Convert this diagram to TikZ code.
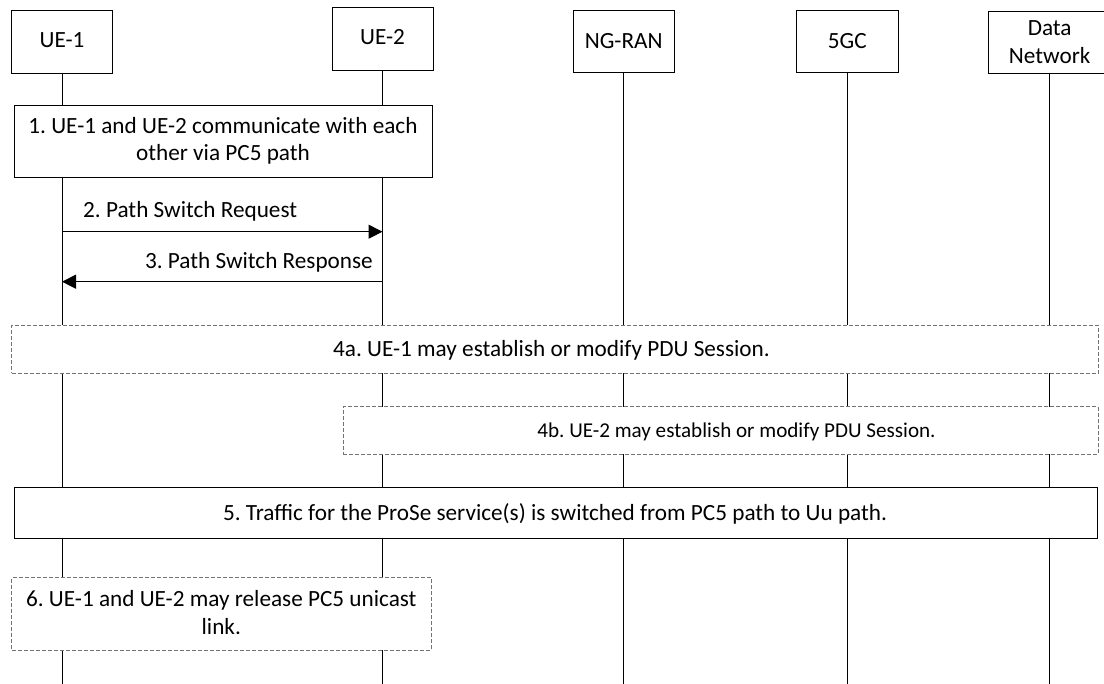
\documentclass[tikz,border=0pt]{standalone}
\usepackage{fontspec}
\setmainfont{Carlito}
\usetikzlibrary{arrows.meta}
\frenchspacing
\begin{document}
\begin{tikzpicture}[x=1bp,y=-1bp,
  hdr/.style={draw,line width=0.9bp,fill=white,inner sep=0pt},
  lifeline/.style={line width=1bp},
  solidbox/.style={draw,line width=0.9bp,fill=white,inner sep=0pt},
  dashbox/.style={draw=black!55,line width=0.9bp,dash pattern=on 4bp off 2bp,fill=white,inner sep=0pt},
  txt/.style={font=\fontsize{23.3}{27}\selectfont,inner sep=0pt,anchor=base},
  smalltxt/.style={font=\fontsize{21.2}{25}\selectfont,inner sep=0pt,anchor=base},
  msg/.style={line width=1bp,-{Triangle[length=14bp,width=14bp]}}]
\useasboundingbox (0,0) rectangle (1104,684);
% header boxes
\node[hdr,minimum width=101bp,minimum height=62.6bp] (ue1) at (62,42) {};
\node[hdr,minimum width=101bp,minimum height=62.7bp] (ue2) at (382.5,38.7) {};
\node[hdr,minimum width=101bp,minimum height=62bp] (ran) at (623.7,41.7) {};
\node[hdr,minimum width=101.3bp,minimum height=62.3bp] (cn) at (847.3,41.8) {};
\node[hdr,minimum width=123bp,minimum height=61.6bp] (dn) at (1049.7,42.5) {};
\node[txt] (ue1t) at (62,48) {UE-1};
\node[txt] (ue2t) at (382.5,45) {UE-2};
\node[txt] (rant) at (623.7,49) {NG-RAN};
\node[txt] (cnt) at (847.3,49) {5GC};
\node[txt] (dnt1) at (1049.7,35.3) {Data};
\node[txt] (dnt2) at (1049.7,63.3) {Network};
% lifeline ends
\coordinate (ue1e) at (62,684);
\coordinate (ue2e) at (382.5,684);
\coordinate (rane) at (623.7,684);
\coordinate (cne) at (847.3,684);
\coordinate (dne) at (1049.7,684);
\draw[lifeline] (ue1) -- (ue1e);
\draw[lifeline] (ue2) -- (ue2e);
\draw[lifeline] (ran) -- (rane);
\draw[lifeline] (cn) -- (cne);
\draw[lifeline] (dn) -- (dne);
% step 1
\node[solidbox,minimum width=418bp,minimum height=72bp] (s1) at (223,141) {};
\node[txt] (s1a) at (223,134) {1. UE-1 and UE-2 communicate with each};
\node[txt] (s1b) at (223,160.7) {other via PC5 path};
% messages
\coordinate (m2s) at (62,231.7);
\coordinate (m2e) at (382.5,231.7);
\coordinate (m3s) at (382.5,281.7);
\coordinate (m3e) at (62,281.7);
\draw[msg] (m2s) -- (m2e);
\draw[msg] (m3s) -- (m3e);
\node[txt,anchor=base west] (m2t) at (83,218) {2. Path Switch Request};
\node[txt,anchor=base east] (m3t) at (373,268) {3. Path Switch Response};
% step 4a
\node[dashbox,minimum width=1086.3bp,minimum height=48.3bp] (s4a) at (554.8,349.2) {};
\node[txt] (s4at) at (551.5,356) {4a. UE-1 may establish or modify PDU Session.};
% step 4b
\node[dashbox,minimum width=754.7bp,minimum height=47.6bp] (s4b) at (720.7,430.5) {};
\node[smalltxt] (s4bt) at (736.5,437) {4b. UE-2 may establish or modify PDU Session.};
% step 5
\node[solidbox,minimum width=1083.3bp,minimum height=50.8bp] (s5) at (555.7,512.9) {};
\node[txt] (s5t) at (555,520) {5. Traffic for the ProSe service(s) is switched from PC5 path to Uu path.};
% step 6
\node[dashbox,minimum width=419.3bp,minimum height=72.3bp] (s6) at (221.3,613.8) {};
\node[txt] (s6a) at (221.3,606.7) {6. UE-1 and UE-2 may release PC5 unicast};
\node[txt] (s6b) at (221.3,634) {link.};
\end{tikzpicture}
\end{document}
